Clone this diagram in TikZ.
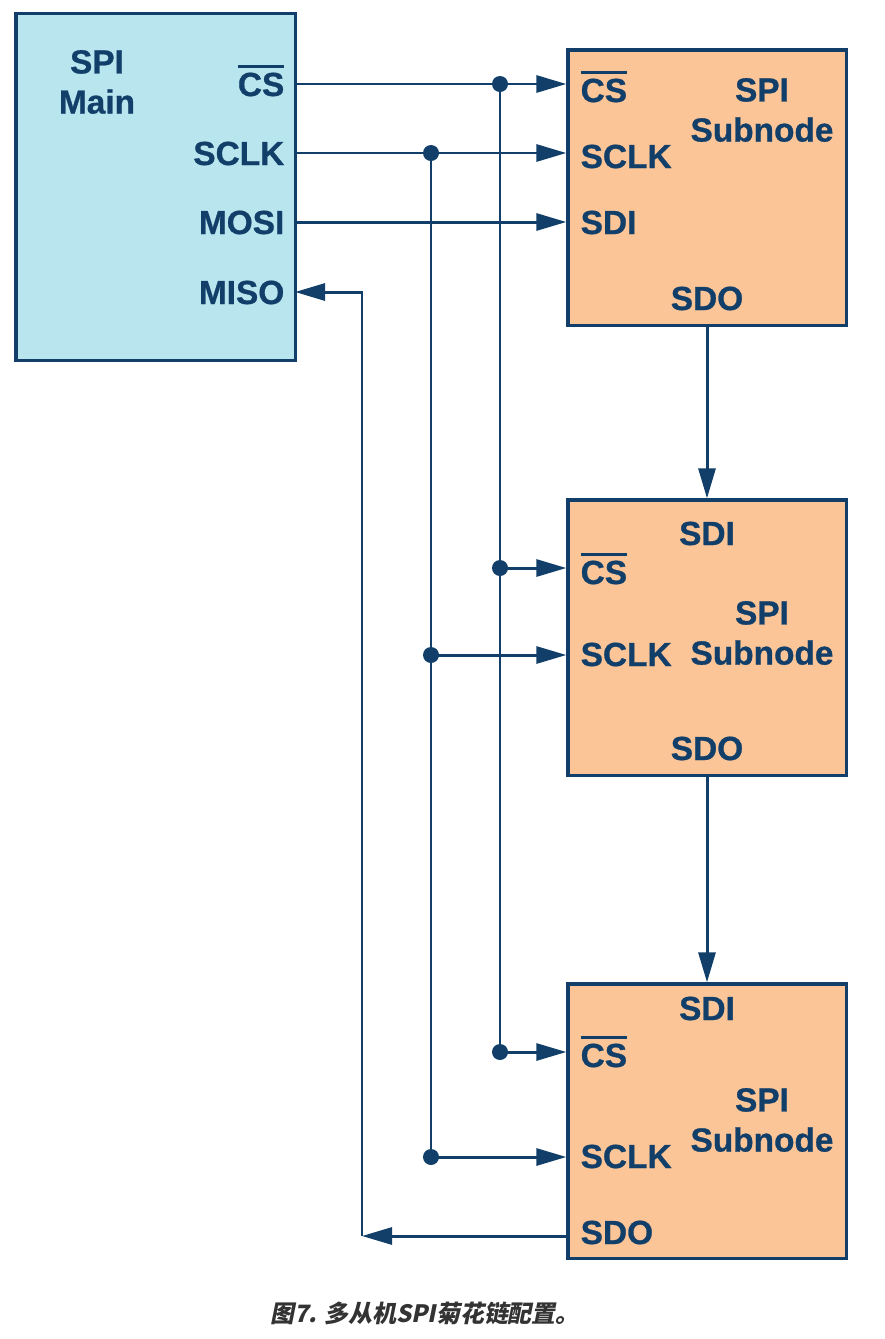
\documentclass[tikz,border=0pt]{standalone}
\usepackage{fontspec}
\setmainfont{Liberation Sans}[BoldFeatures={FakeBold=0.8}]
\newfontfamily\cjk[FakeSlant=0.2]{Noto Sans CJK SC}
\usepackage{tikz}
\usetikzlibrary{
    arrows.meta,
    positioning
}
\usepackage{xcolor}

\definecolor{adiblue}{HTML}{123F69}
\definecolor{mainfill}{HTML}{B9E6EE}
\definecolor{subfill}{HTML}{FBC597}
\newcommand{\csn}{\vbox{\hrule height 0.8pt\kern 1.4pt\hbox{CS}}}

\begin{document}
\begin{tikzpicture}[
        x=0.01cm, y=-0.01cm,
        every node/.style={
            text=adiblue,
            font=\fontsize{9.5}{11.4}\selectfont\bfseries
        },
        box/.style={
            draw=adiblue,
            line width=0.9pt,
            inner sep=0pt
        },
        lbl/.style={
            inner sep=0pt
        },
        sig/.style={
            draw=adiblue,
            line width=0.85pt
        },
        arr/.style={
            sig,
            -{Triangle[length=0.3cm,width=0.17cm]}
        },
        dot/.style={
            circle,
            fill=adiblue,
            inner sep=0pt,
            minimum size=0.16cm
        }
    ]
    \useasboundingbox (0,0) rectangle (885,1339);

    % blocks
    \node[box, fill=mainfill, minimum width=2.79cm, minimum height=3.46cm] (main) at (155.5,187) {};
    \node[box, fill=subfill, minimum width=2.78cm, minimum height=2.75cm] (s1) at (707,187.5) {};
    \node[box, fill=subfill, minimum width=2.78cm, minimum height=2.75cm] (s2) at (707,637.5) {};
    \node[box, fill=subfill, minimum width=2.78cm, minimum height=2.74cm] (s3) at (707,1121) {};

    % main labels
    \node[lbl, align=center] (mtitle) at (97,82) {SPI\\Main};
    \node[lbl, anchor=base east] (mcs) at (285,96) {\csn};
    \node[lbl, anchor=base east] (msclk) at (285,165) {SCLK};
    \node[lbl, anchor=base east] (mmosi) at (285,234) {MOSI};
    \node[lbl, anchor=base east] (mmiso) at (285,304) {MISO};

    % first subnode
    \node[lbl, align=center] (t1) at (762,110) {SPI\\Subnode};
    \node[lbl, anchor=base west] (cs1) at (580,102) {\csn};
    \node[lbl, anchor=base west] (sclk1) at (580,168) {SCLK};
    \node[lbl, anchor=base west] (sdi1) at (580,234) {SDI};
    \node[lbl, anchor=base] (sdo1) at (707,310) {SDO};

    % second subnode
    \node[lbl, align=center] (t2) at (762,633) {SPI\\Subnode};
    \node[lbl, anchor=base] (sdi2) at (707,545) {SDI};
    \node[lbl, anchor=base west] (cs2) at (580,584) {\csn};
    \node[lbl, anchor=base west] (sclk2) at (580,666) {SCLK};
    \node[lbl, anchor=base] (sdo2) at (707,760) {SDO};

    % third subnode
    \node[lbl, align=center] (t3) at (762,1120) {SPI\\Subnode};
    \node[lbl, anchor=base] (sdi3) at (707,1020) {SDI};
    \node[lbl, anchor=base west] (cs3) at (580,1067) {\csn};
    \node[lbl, anchor=base west] (sclk3) at (580,1168) {SCLK};
    \node[lbl, anchor=base west] (sdo3) at (580,1244) {SDO};

    % pins and junctions
    \coordinate (mosi) at (295,222);
    \coordinate (miso) at (295,292);
    \coordinate (ret) at (362,1236);
    \node[dot] (jcs0) at (500,84) {};
    \node[dot] (jcs1) at (500,568) {};
    \node[dot] (jcs2) at (500,1052) {};
    \node[dot] (jck0) at (431,153) {};
    \node[dot] (jck1) at (431,655) {};
    \node[dot] (jck2) at (431,1157) {};

    % chip select
    \draw[arr] (main.east |- jcs0) -- (s1.west |- jcs0);
    \draw[sig] (jcs0.center) -- (jcs2.center);
    \draw[arr] (jcs1.center) -- (s2.west |- jcs1);
    \draw[arr] (jcs2.center) -- (s3.west |- jcs2);

    % clock
    \draw[arr] (main.east |- jck0) -- (s1.west |- jck0);
    \draw[sig] (jck0.center) -- (jck2.center);
    \draw[arr] (jck1.center) -- (s2.west |- jck1);
    \draw[arr] (jck2.center) -- (s3.west |- jck2);

    % data chain
    \draw[arr] (mosi) -- (s1.west |- mosi);
    \draw[arr] (s1.south) -- (s2.north);
    \draw[arr] (s2.south) -- (s3.north);
    \draw[arr] (s3.west |- ret) -- (ret);
    \draw[arr] (ret) |- (miso);

    % caption
    \node[text=black!80, font=\cjk\fontsize{6.8}{8}\selectfont\bfseries] (cap) at (425,1313) {图7. 多从机SPI菊花链配置。};

    \end{tikzpicture}
\end{document}
